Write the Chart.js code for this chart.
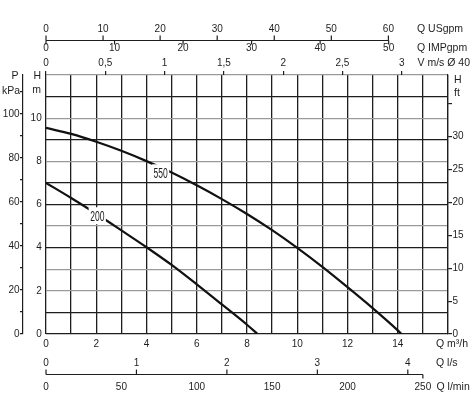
<!DOCTYPE html>
<html>
<head>
<meta charset="utf-8">
<script src="https://cdn.jsdelivr.net/npm/chart.js@4.4.0/dist/chart.umd.min.js"></script>
<style>
html,body{margin:0;padding:0;background:#fff;}
#wrap{width:471px;height:417px;}
</style>
</head>
<body>
<div id="wrap"><canvas id="pump" width="471" height="417"></canvas></div>
<script>
// pump curves, Q in m3/h, H in m
const Q_550 = [0, 1, 2, 3, 4, 5, 6, 7, 8, 9, 10, 11, 12, 13, 14, 14.15];
const H_550 = [9.55, 9.27, 8.91, 8.49, 8.01, 7.48, 6.89, 6.25, 5.56, 4.81, 3.99, 3.11, 2.17, 1.2, 0.17, 0];
const Q_200 = [0, 1, 2, 3, 4, 5, 6, 7, 8, 8.42];
const H_200 = [7.0, 6.3, 5.57, 4.8, 4.02, 3.2, 2.3, 1.37, 0.43, 0];

// curve tags (model power) and where they sit
const TAG_TEXT = ['550', '200'];
const TAG_Q = [4.56, 2.04];
const TAG_H = [7.40, 5.41];

// tick values per scale
const TICKS_M3H = [0,1,2,3,4,5,6,7,8,9,10,11,12,13,14,15,16];
const TICKS_M = [0,1,2,3,4,5,6,7,8,9,10,11,12];
const TICKS_KPA = [0,10,20,30,40,50,60,70,80,90,100,110];
const TICKS_FT = [0,5,10,15,20,25,30,35];
const TICKS_USGPM = [0,10,20,30,40,50,60];
const TICKS_IMPGPM = [0,10,20,30,40,50];
const TICKS_VMS = [0,0.5,1,1.5,2,2.5,3];
const TICKS_LPS = [0,1,2,3,4];
const TICKS_LPM = [0,50,100,150,200,250];

// unit conversions
const Q_MAX = 16, H_MAX = 12;
const USGPM = 4.40287, IMPGPM = 3.66615, LPS = 1 / 3.6, LPM = 1000 / 60, VMS = 1 / 4.72;
const KPA = 9.81, FT = 3.28084;

const INK = '#1e1e1e';
const LIGHT_ROWS = [2, 3, 5, 8, 10, 12];

const fixW = w => s => { s.width = w; };
const fixH = h => s => { s.height = h; };
const setTicks = arr => s => { s.ticks = arr.map(v => ({value: v})); };
const comma = v => String(v).replace('.', ',');

const auxAxes = {
  id: 'auxAxes',
  afterDraw(chart){
    const {ctx, scales: s} = chart;
    const px = (sc, v) => sc.getPixelForValue(v);
    const line = (x1,y1,x2,y2) => { ctx.beginPath(); ctx.moveTo(x1,y1); ctx.lineTo(x2,y2); ctx.stroke(); };
    ctx.save();
    ctx.strokeStyle = INK; ctx.lineWidth = 1.2;
    // top: USgpm ticks up, IMPgpm ticks down, one shared line
    const yT = Math.round(s.xUS.bottom) + 0.5;
    const endT = Math.max(px(s.xUS, TICKS_USGPM.at(-1)), px(s.xImp, TICKS_IMPGPM.at(-1)));
    line(px(s.xUS, 0), yT, endT, yT);
    TICKS_USGPM.forEach(v => line(px(s.xUS, v), yT, px(s.xUS, v), yT - 5));
    TICKS_IMPGPM.forEach(v => line(px(s.xImp, v), yT, px(s.xImp, v), yT + 4));
    // bottom: l/s ticks up, line runs to the last l/min mark
    const yB = Math.round(s.xLmin.top) + 0.5;
    const endB = px(s.xLmin, TICKS_LPM.at(-1));
    line(px(s.xLs, 0), yB, endB, yB);
    TICKS_LPS.forEach(v => line(px(s.xLs, v), yB, px(s.xLs, v), yB - 5));
    line(endB, yB, endB, yB + 4);

    // unit captions
    const a = chart.chartArea;
    ctx.fillStyle = INK;
    ctx.font = '10.5px "Liberation Sans", Arial, sans-serif';
    ctx.textBaseline = 'middle';
    ctx.textAlign = 'left';
    ctx.fillText('Q USgpm', a.right - 31, 29);
    ctx.fillText('Q IMPgpm', a.right - 31, 48.5);
    ctx.fillText('V m/s Ø 40', a.right - 30.5, 63.5);
    ctx.fillText('Q m³/h', a.right - 12, 344.5);
    ctx.fillText('Q l/s', a.right - 12, 363);
    ctx.fillText('Q l/min', a.right - 11.5, 387);
    ctx.fillText('H', a.right + 6, 80);
    ctx.fillText('ft', a.right + 6, 93.5);
    ctx.textAlign = 'right';
    ctx.fillText('H', a.left - 5, 76);
    ctx.fillText('m', a.left - 5, 90);
    ctx.fillText('P', 18.5, 76.5);
    ctx.fillText('kPa', 20, 91);
    ctx.restore();
  }
};

const curveTags = {
  id: 'curveTags',
  afterDatasetsDraw(chart){
    const {ctx, scales: {x, y}} = chart;
    ctx.save();
    ctx.font = '14px "Liberation Sans", Arial, sans-serif';
    ctx.textAlign = 'center';
    ctx.textBaseline = 'middle';
    TAG_TEXT.forEach((t, i) => {
      const cx = x.getPixelForValue(TAG_Q[i]), cy = y.getPixelForValue(TAG_H[i]);
      const tw = ctx.measureText(t).width * 0.61;
      ctx.fillStyle = '#fff';
      ctx.fillRect(cx - tw / 2 - 1.5, cy - 10, tw + 3, 17);
      ctx.save();
      ctx.translate(cx, cy);
      ctx.scale(0.61, 1);
      ctx.fillStyle = INK;
      ctx.fillText(t, 0, 0);
      ctx.restore();
    });
    ctx.restore();
  }
};

Chart.defaults.font.family = '"Liberation Sans", Arial, sans-serif';
Chart.defaults.font.size = 10;
Chart.defaults.color = INK;

const curve = (q, h) => q.map((v, i) => ({x: v, y: h[i]}));
const labelOnly = (pos, weight, max, ticks, pad, h, cb) => ({
  type: 'linear', position: pos, weight, min: 0, max,
  afterBuildTicks: setTicks(ticks), afterFit: fixH(h),
  ticks: {autoSkip: false, maxRotation: 0, padding: pad, callback: cb || (v => v)},
  grid: {display: false, drawTicks: false}, border: {display: false}
});

new Chart(document.getElementById('pump'), {
  type: 'line',
  data: {
    datasets: [
      {label: '550', data: curve(Q_550, H_550), borderColor: '#111', borderWidth: 2.2, pointRadius: 0, cubicInterpolationMode: 'monotone', fill: false},
      {label: '200', data: curve(Q_200, H_200), borderColor: '#111', borderWidth: 2.2, pointRadius: 0, cubicInterpolationMode: 'monotone', fill: false}
    ]
  },
  options: {
    responsive: false,
    animation: false,
    layout: {padding: {left: 0, right: 0, top: 0, bottom: 23}},
    plugins: {legend: {display: false}, tooltip: {enabled: false}},
    scales: {
      x: {
        type: 'linear', position: 'bottom', weight: 0, min: 0, max: Q_MAX,
        afterBuildTicks: setTicks(TICKS_M3H), afterFit: fixH(17),
        ticks: {autoSkip: false, maxRotation: 0, padding: 4.3, callback: v => (v % 2 === 0 && v <= 14) ? v : ''},
        grid: {color: INK, lineWidth: 1.3, drawTicks: false},
        border: {display: false}
      },
      y: {
        type: 'linear', position: 'left', weight: 0, min: 0, max: H_MAX,
        afterBuildTicks: setTicks(TICKS_M), afterFit: fixW(23),
        ticks: {autoSkip: false, padding: 4.3, callback: v => (v % 2 === 0 && v <= 10) ? v : ''},
        grid: {color: c => LIGHT_ROWS.includes(c.tick.value) ? '#9a9a9a' : INK, lineWidth: 1.3, drawTicks: false},
        border: {display: false}
      },
      yKpa: {
        type: 'linear', position: 'left', weight: 1, min: 0, max: H_MAX * KPA,
        afterBuildTicks: setTicks(TICKS_KPA), afterFit: fixW(23),
        ticks: {autoSkip: false, padding: 0.5, callback: v => v % 20 === 0 ? v : ''},
        grid: {drawOnChartArea: false, tickLength: 3, color: INK, lineWidth: 1.2},
        border: {display: true, color: INK, width: 1.2}
      },
      yFt: {
        type: 'linear', position: 'right', min: 0, max: H_MAX * FT,
        afterBuildTicks: setTicks(TICKS_FT), afterFit: fixW(23),
        ticks: {autoSkip: false, padding: 0.5, callback: v => v <= 30 ? v : ''},
        grid: {drawOnChartArea: false, tickLength: 4, color: INK, lineWidth: 1.2},
        border: {display: true, color: INK, width: 1.2}
      },
      xV: {
        type: 'linear', position: 'top', weight: 1, min: 0, max: Q_MAX * VMS,
        afterBuildTicks: setTicks(TICKS_VMS), afterFit: fixH(18),
        ticks: {autoSkip: false, maxRotation: 0, padding: 1.5, callback: comma},
        grid: {drawOnChartArea: false, tickLength: 4, color: INK, lineWidth: 1.2},
        border: {display: false}
      },
      xImp: labelOnly('top', 2, Q_MAX * IMPGPM, TICKS_IMPGPM, 2.3, 17),
      xUS: labelOnly('top', 3, Q_MAX * USGPM, TICKS_USGPM, 4.7, 40),
      xLs: labelOnly('bottom', 1, Q_MAX * LPS, TICKS_LPS, 6, 23),
      xLmin: labelOnly('bottom', 2, Q_MAX * LPM, TICKS_LPM, 7, 20)
    }
  },
  plugins: [auxAxes, curveTags]
});
</script>
</body>
</html>
